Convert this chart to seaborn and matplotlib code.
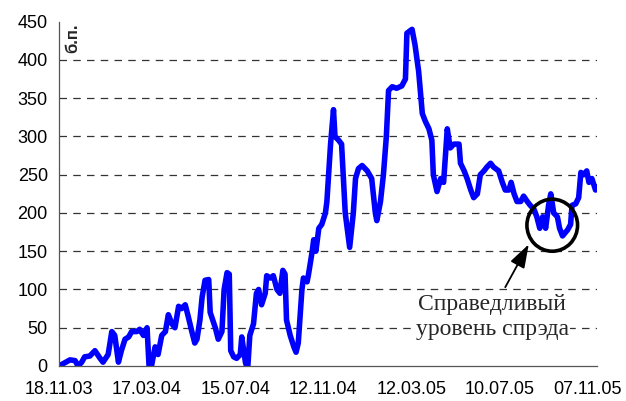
import numpy as np
import pandas as pd
import matplotlib
matplotlib.use("Agg")
import matplotlib.pyplot as plt
import matplotlib.dates as mdates
from matplotlib.patches import Ellipse
import seaborn as sns

# Данные (спред, б.п.)
dates = [
    "2003-11-18", "2003-12-03", "2003-12-10", "2003-12-14", "2003-12-19", "2003-12-23",
    "2003-12-30", "2004-01-06", "2004-01-13", "2004-01-17", "2004-01-24", "2004-01-29",
    "2004-02-02", "2004-02-07", "2004-02-11", "2004-02-16", "2004-02-21", "2004-02-25",
    "2004-03-03", "2004-03-07", "2004-03-12", "2004-03-17", "2004-03-20", "2004-03-23",
    "2004-03-28", "2004-04-01", "2004-04-06", "2004-04-11", "2004-04-15", "2004-04-20",
    "2004-04-24", "2004-04-29", "2004-05-03", "2004-05-08", "2004-05-12", "2004-05-17",
    "2004-05-21", "2004-05-24", "2004-05-28", "2004-05-31", "2004-06-04", "2004-06-09",
    "2004-06-11", "2004-06-18", "2004-06-22", "2004-06-27", "2004-06-30", "2004-07-04",
    "2004-07-07", "2004-07-09", "2004-07-13", "2004-07-17", "2004-07-22", "2004-07-24",
    "2004-07-29", "2004-08-01", "2004-08-04", "2004-08-09", "2004-08-13", "2004-08-16",
    "2004-08-20", "2004-08-25", "2004-08-27", "2004-09-01", "2004-09-05", "2004-09-10",
    "2004-09-14", "2004-09-18", "2004-09-21", "2004-09-23", "2004-09-28", "2004-10-03",
    "2004-10-06", "2004-10-09", "2004-10-14", "2004-10-16", "2004-10-21", "2004-10-23",
    "2004-10-28", "2004-10-30", "2004-11-02", "2004-11-06", "2004-11-10", "2004-11-15",
    "2004-11-17", "2004-11-22", "2004-11-26", "2004-11-28", "2004-12-03", "2004-12-07",
    "2004-12-12", "2004-12-18", "2004-12-23", "2004-12-26", "2004-12-30", "2005-01-04",
    "2005-01-11", "2005-01-17", "2005-01-22", "2005-01-24", "2005-01-29", "2005-02-02",
    "2005-02-06", "2005-02-09", "2005-02-14", "2005-02-20", "2005-02-27", "2005-03-04",
    "2005-03-06", "2005-03-13", "2005-03-17", "2005-03-22", "2005-03-27", "2005-03-31",
    "2005-04-05", "2005-04-09", "2005-04-11", "2005-04-16", "2005-04-21", "2005-04-25",
    "2005-04-30", "2005-05-04", "2005-05-09", "2005-05-16", "2005-05-18", "2005-05-23",
    "2005-05-27", "2005-06-01", "2005-06-05", "2005-06-10", "2005-06-14", "2005-06-19",
    "2005-06-23", "2005-06-28", "2005-07-02", "2005-07-09", "2005-07-14", "2005-07-18",
    "2005-07-23", "2005-07-26", "2005-07-30", "2005-08-03", "2005-08-08", "2005-08-12",
    "2005-08-17", "2005-08-21", "2005-08-26", "2005-08-30", "2005-09-03", "2005-09-07",
    "2005-09-11", "2005-09-15", "2005-09-18", "2005-09-22", "2005-09-27", "2005-09-30",
    "2005-10-04", "2005-10-11", "2005-10-15", "2005-10-17", "2005-10-22", "2005-10-26",
    "2005-10-29", "2005-11-02", "2005-11-06", "2005-11-09", "2005-11-13", "2005-11-18",
    "2005-11-22",
]
spread = [
    0, 8, 7, 0, 5, 12,
    13, 20, 10, 5, 15, 45,
    40, 5, 20, 35, 38, 45,
    45, 48, 40, 50, -5, 0,
    25, 15, 40, 45, 67, 55,
    50, 78, 75, 80, 65, 45,
    30, 35, 60, 90, 112, 113,
    70, 50, 35, 45, 100, 122,
    120, 20, 12, 10, 15, 38,
    5, -5, 40, 55, 95, 100,
    80, 95, 118, 115, 118, 100,
    95, 125, 120, 60, 40, 25,
    18, 30, 100, 115, 110, 120,
    150, 165, 150, 180, 185, 200,
    215, 290, 335, 300, 295, 290,
    200, 155, 200, 245, 258, 262,
    255, 245, 200, 190, 215, 250,
    300, 360, 365, 363, 366, 375,
    435, 440, 420, 385, 330, 320,
    310, 295, 250, 228, 245, 240,
    310, 285, 290, 290, 265, 255,
    245, 230, 220, 225, 250, 255,
    260, 265, 260, 255, 240, 230,
    230, 240, 225, 215, 215, 222,
    215, 210, 205, 195, 180, 195,
    180, 210, 225, 200, 195, 180,
    170, 178, 185, 210, 212, 220,
    253, 250, 255, 240, 245, 230,
    235,
]
tick_dates = ["2003-11-18", "2004-03-17", "2004-07-15", "2004-11-12",
              "2005-03-12", "2005-07-10", "2005-11-07"]
y_ticks = [0, 50, 100, 150, 200, 250, 300, 350, 400, 450]

df = pd.DataFrame({"date": pd.to_datetime(dates), "spread": spread})

sns.set_style("white")
plt.rcParams['font.family'] = ['Liberation Sans', 'DejaVu Sans']

fig = plt.figure(figsize=(6.26, 4.01), dpi=100)
ax = fig.add_axes([0.0942, 0.0873, 0.8595, 0.8586])

sns.lineplot(data=df, x="date", y="spread", ax=ax, color="#0000FF",
             linewidth=4.0, solid_joinstyle="round", solid_capstyle="round")

ax.set_ylim(0, 450)
ax.set_xlim(pd.Timestamp("2003-11-18"), pd.Timestamp("2005-11-20"))
ax.set_yticks(y_ticks)
ax.set_xticks(pd.to_datetime(tick_dates))
ax.xaxis.set_major_formatter(mdates.DateFormatter("%d.%m.%y"))

for v in y_ticks[1:-1]:
    ax.axhline(v, color="#333333", linewidth=0.9, linestyle=(0, (6, 5)), zorder=0)

for s in ["top", "right"]:
    ax.spines[s].set_visible(False)
for s in ["left", "bottom"]:
    ax.spines[s].set_color("#555555")
    ax.spines[s].set_linewidth(0.9)

ax.tick_params(axis="both", direction="out", length=5, width=0.9,
               color="#555555", labelsize=13, labelcolor="black", pad=3)
ax.tick_params(axis="x", pad=6)
ax.set_xlabel("")
ax.set_ylabel("")

ax.text(0.012, 0.995, "б.п.", transform=ax.transAxes, rotation=90,
        ha="left", va="top", fontsize=12, fontweight="bold")

# Справедливый уровень
ax.add_patch(Ellipse((mdates.date2num(pd.Timestamp("2005-09-20")), 184),
                     width=69, height=68, fill=False, edgecolor="black",
                     linewidth=2.6, zorder=5))
ax.text(pd.Timestamp("2005-06-30"), 64, "Справедливый\nуровень спрэда",
        ha="center", va="center", fontsize=17, family="Liberation Serif",
        linespacing=1.2, zorder=4,
        bbox=dict(facecolor="white", edgecolor="none", pad=1))
ax.annotate("", xy=(pd.Timestamp("2005-08-19"), 159),
            xytext=(pd.Timestamp("2005-07-18"), 103),
            arrowprops=dict(arrowstyle="-|>,head_length=0.9,head_width=0.3",
                            color="black", lw=1.3, mutation_scale=16,
                            shrinkA=0, shrinkB=0))

fig.savefig("out.png", dpi=100)
